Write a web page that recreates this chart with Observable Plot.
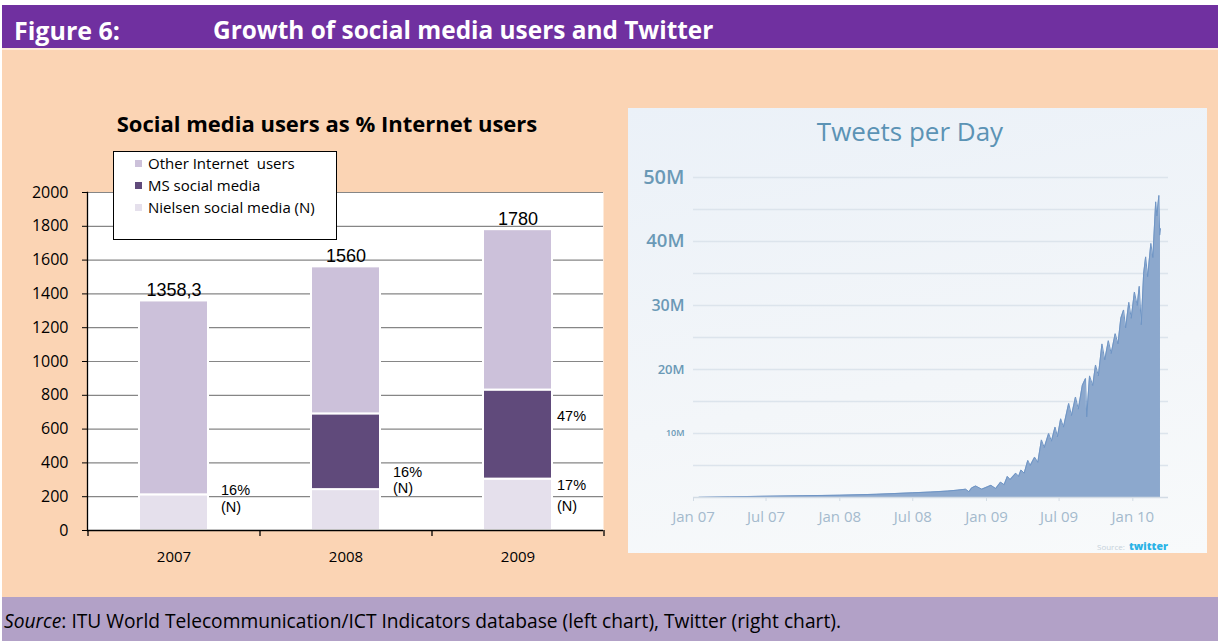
<!DOCTYPE html>
<html><head><meta charset="utf-8">
<script src="https://cdn.jsdelivr.net/npm/d3@7"></script>
<script src="https://cdn.jsdelivr.net/npm/@observablehq/plot@0.6"></script>
<style>
body{margin:0;width:1220px;height:641px;position:relative;overflow:hidden;background:#fff;font-family:"Open Sans",sans-serif;color:#000}
.abs{position:absolute}
.abs svg{display:block}
</style></head><body>
<div class="abs" style="left:2px;top:5px;width:1216px;height:43px;background:#7030a0"></div>
<div class="abs" style="left:2px;top:48px;width:1216px;height:2px;background:#fde9d9"></div>
<div class="abs" style="left:2px;top:50px;width:1216px;height:547px;background:#fbd4b4"></div>
<div class="abs" style="left:2px;top:597px;width:1216px;height:44px;background:#b2a1c7"></div>
<div class="abs" style="left:14px;top:10px;height:40px;line-height:40px;color:#fff;font-weight:700;font-size:25px;white-space:nowrap">Figure 6:</div>
<div class="abs" style="left:213px;top:10px;height:40px;line-height:40px;color:#fff;font-weight:700;font-size:24.4px;white-space:nowrap">Growth of social media users and Twitter</div>
<div class="abs" style="left:27px;top:108px;width:600px;height:30px;line-height:30px;text-align:center;font-weight:700;font-size:22px;white-space:nowrap">Social media users as % Internet users</div>
<div class="abs" id="left" style="left:20px;top:140px"></div>
<div class="abs" id="legend" style="left:113px;top:151px;width:222px;height:87px;background:#fff;border:1px solid #000;font-size:15px"></div>
<div class="abs" id="panel" style="left:628px;top:108px;width:579px;height:445px;background:linear-gradient(170deg,#ebf1f8 0%,#f3f6f9 60%,#f8fafb 100%)"></div>
<div class="abs" style="left:760px;top:114px;width:300px;height:34px;line-height:34px;text-align:center;font-size:26px;color:#5b93b5;white-space:nowrap">Tweets per Day</div>
<div class="abs" id="right" style="left:628px;top:108px"></div>
<div class="abs" style="left:1097px;top:533px;height:22px;line-height:22px;white-space:nowrap"><span style="font-size:8px;color:#c6d1da">Source:</span> <span style="font-size:10.5px;font-weight:800;color:#2bb3e6;font-family:'Open Sans'">twitter</span></div>
<div class="abs" style="left:4px;top:606px;height:30px;line-height:30px;font-size:19.2px;white-space:nowrap"><i>Source</i>: ITU World Telecommunication/ICT Indicators database (left chart), Twitter (right chart).</div>
<script>
// ---------- Left chart data ----------
const years = ["2007", "2008", "2009"];
const totals = [1358.3, 1560, 1780];
const totalLabels = ["1358,3", "1560", "1780"];
const nielsenUsers = [211, 242, 304];
const msSocialUsers = [0, 448, 527];
const seriesNames = ["Other Internet  users", "MS social media", "Nielsen social media (N)"];
const seriesColors = ["#ccc1da", "#604a7b", "#e5e0ec"];
const leftTicks = [0, 200, 400, 600, 800, 1000, 1200, 1400, 1600, 1800, 2000];
const pctYears = ["2007", "2007", "2008", "2008", "2009", "2009", "2009"];
const pctTexts = ["16%", "(N)", "16%", "(N)", "47%", "17%", "(N)"];
const pctAt = [237, 136, 343, 249, 675, 266, 142];

// ---------- Right chart data (millions of tweets per day) ----------
const tweetDates = ["2007-01-15","2007-04-01","2007-07-01","2007-10-01","2008-01-01","2008-04-01","2008-07-01","2008-08-15","2008-09-26","2008-10-20","2008-11-10","2008-11-18","2008-11-25","2008-12-05","2008-12-20","2009-01-05","2009-01-12","2009-01-24","2009-02-05","2009-02-14","2009-02-22","2009-03-01","2009-03-15","2009-03-22","2009-03-28","2009-04-05","2009-04-14","2009-04-20","2009-05-01","2009-05-09","2009-05-18","2009-05-25","2009-06-05","2009-06-12","2009-06-21","2009-06-27","2009-07-05","2009-07-12","2009-07-25","2009-08-01","2009-08-11","2009-08-18","2009-08-28","2009-09-05","2009-09-08","2009-09-15","2009-09-23","2009-09-30","2009-10-07","2009-10-16","2009-10-23","2009-11-01","2009-11-08","2009-11-18","2009-11-25","2009-12-02","2009-12-09","2009-12-14","2009-12-22","2009-12-28","2010-01-05","2010-01-12","2010-01-17","2010-01-22","2010-01-28","2010-02-02","2010-02-07","2010-02-15","2010-02-20","2010-02-27","2010-03-02","2010-03-07","2010-03-09","2010-03-11"];
const tweetValues = [0.02,0.1,0.2,0.28,0.36,0.5,0.73,0.85,1.0,1.15,1.3,0.9,1.5,1.8,1.3,1.7,1.9,1.4,2.4,2.0,3.3,2.8,3.8,3.3,4.3,3.8,5.8,5.0,6.3,5.5,9.0,7.8,10.0,8.8,11.0,9.5,12.3,11.0,14.7,12.8,15.7,13.8,17.5,18.6,12.6,19.0,17.5,20.7,19.0,24.0,21.5,24.5,22.5,25.6,24.0,28.0,29.3,26.5,30.5,28.0,32.1,30.0,33.0,27.0,35.0,37.6,34.5,39.7,37.5,46.2,44.0,47.2,41.0,42.0];
const tweetTicksY = [10, 20, 30, 40, 50];
const tweetGrid = [5, 10, 15, 20, 25, 30, 35, 40, 45, 50];
const tweetTicksX = ["2007-01-01","2007-07-01","2008-01-01","2008-07-01","2009-01-01","2009-07-01","2010-01-01"];

// ---------- Left chart ----------
const stacked = [];
years.forEach((yr, i) => {
  stacked.push({year: yr, series: seriesNames[2], value: nielsenUsers[i]});
  if (msSocialUsers[i] > 0) stacked.push({year: yr, series: seriesNames[1], value: msSocialUsers[i]});
  stacked.push({year: yr, series: seriesNames[0], value: totals[i] - nielsenUsers[i] - msSocialUsers[i]});
});
const pct = pctYears.map((y, i) => ({year: y, text: pctTexts[i], at: pctAt[i]}));

const leftPlot = Plot.plot({
  width: 600, height: 440,
  marginLeft: 67, marginRight: 17, marginTop: 52, marginBottom: 50,
  x: {domain: years, paddingInner: 0.6, paddingOuter: 0.3, axis: null, label: null},
  y: {domain: [0, 2000], axis: null, label: null},
  color: {domain: seriesNames, range: seriesColors},
  style: {background: "transparent", fontFamily: "Open Sans", color: "#000", overflow: "visible"},
  marks: [
    Plot.frame({fill: "white", stroke: "none"}),
    Plot.gridY(leftTicks.filter(v => v > 0), {stroke: "#868686", strokeOpacity: 1, strokeWidth: 1.2}),
    Plot.barY(stacked, {x: "year", y: "value", fill: "series", order: [seriesNames[2], seriesNames[1], seriesNames[0]], stroke: "white", strokeWidth: 2}),
    Plot.ruleY([0], {stroke: "#000", strokeWidth: 1.3}),
    Plot.frame({anchor: "left", stroke: "#000", strokeWidth: 1.3}),
    Plot.ruleX(years, {x: d => d, y1: 0, y2: -36, dx: -86, stroke: "#000", strokeWidth: 1.3}),
    Plot.ruleX([years[years.length - 1]], {x: d => d, y1: 0, y2: -36, dx: 86, stroke: "#000", strokeWidth: 1.3}),
    Plot.axisY(leftTicks, {tickSize: 5, tickPadding: 14, fontSize: 16, fill: "#000", stroke: "#000", tickFormat: d => String(d), label: null}),
    Plot.axisX(years, {tickSize: 0, tickPadding: 21, fontSize: 15, fill: "#000", label: null}),
    Plot.text(years, {x: d => d, y: (d, i) => totals[i], text: (d, i) => totalLabels[i], lineAnchor: "bottom", dy: -5, fontSize: 18, fontFamily: "Liberation Sans", fill: "#000"}),
    Plot.text(pct.filter(d => d.year !== "2009"), {x: "year", y: "at", text: "text", textAnchor: "start", dx: 47, fontSize: 14.5, fontFamily: "Liberation Sans", fill: "#000"}),
    Plot.text(pct.filter(d => d.year === "2009"), {x: "year", y: "at", text: "text", textAnchor: "start", dx: 39, fontSize: 14.5, fontFamily: "Liberation Sans", fill: "#000"})
  ]
});
document.getElementById("left").appendChild(leftPlot);

// legend
const legend = document.getElementById("legend");
seriesNames.forEach((name, i) => {
  const row = document.createElement("div");
  row.style.cssText = "height:22px;line-height:22px;white-space:pre;position:relative;padding-left:34px";
  const sw = document.createElement("span");
  sw.style.cssText = `position:absolute;left:21px;top:8px;width:7px;height:7px;background:${seriesColors[i]}`;
  row.appendChild(sw);
  row.appendChild(document.createTextNode(name));
  legend.appendChild(row);
});

// ---------- Right chart ----------
const tweets = tweetDates.map((d, i) => ({date: new Date(d), value: tweetValues[i]}));
const rightPlot = Plot.plot({
  width: 579, height: 445,
  marginLeft: 65, marginRight: 39, marginTop: 69, marginBottom: 56,
  x: {type: "utc", domain: [new Date("2007-01-01"), new Date("2010-03-31")], axis: null, label: null},
  y: {domain: [0, 50], axis: null, label: null},
  style: {background: "transparent", fontFamily: "Open Sans", overflow: "visible"},
  marks: [
    Plot.gridY(tweetGrid, {stroke: "#dce4ec", strokeOpacity: 1, strokeWidth: 1.5}),
    Plot.areaY(tweets, {x: "date", y: "value", fill: "#8ca8cd"}),
    Plot.lineY(tweets, {x: "date", y: "value", stroke: "#6f95c5", strokeWidth: 1}),
    Plot.ruleY([0], {stroke: "#d3dce5", strokeWidth: 1.5}),
    Plot.axisX(tweetTicksX.map(d => new Date(d)), {tickFormat: d3.utcFormat("%b %y"), tickSize: 4, tickPadding: 10, fontSize: 15, fill: "#a4bacd", stroke: "#d3dce5", label: null}),
    Plot.text(tweetTicksY, {frameAnchor: "left", y: d => d, text: d => d + "M", textAnchor: "end", dx: -9, fontSize: d => ({10: 9, 20: 13, 30: 16, 40: 18.5, 50: 20})[d], fill: "#6a99b6", fontWeight: 600})
  ]
});
document.getElementById("right").appendChild(rightPlot);
</script>
</body></html>
